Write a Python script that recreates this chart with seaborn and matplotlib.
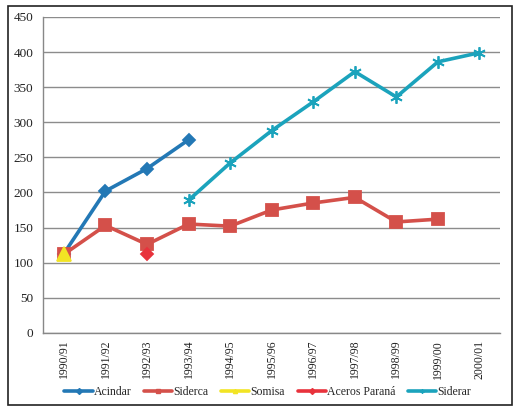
import numpy as np
import pandas as pd
import matplotlib
matplotlib.use("Agg")
import matplotlib.pyplot as plt
import seaborn as sns
from matplotlib.patches import Rectangle
from matplotlib.lines import Line2D

years = ["1990/91", "1991/92", "1992/93", "1993/94", "1994/95", "1995/96",
         "1996/97", "1997/98", "1998/99", "1999/00", "2000/01"]
acindar = [113, 202, 234, 275, None, None, None, None, None, None, None]
siderca = [112, 153, 126, 155, 152, 175, 185, 193, 158, 162, None]
somisa = [113, None, None, None, None, None, None, None, None, None, None]
aceros_parana = [None, None, 113, None, None, None, None, None, None, None, None]
siderar = [None, None, None, 189, 242, 288, 329, 372, 336, 386, 399]

series = {"Acindar": acindar, "Siderca": siderca, "Somisa": somisa,
          "Aceros Paraná": aceros_parana, "Siderar": siderar}
colors = {"Acindar": "#2378B5", "Siderca": "#D4504A", "Somisa": "#F2E424",
          "Aceros Paraná": "#E8323C", "Siderar": "#1BA3BC"}
markers = {"Acindar": "D", "Siderca": "s", "Somisa": "^",
           "Aceros Paraná": "D", "Siderar": (6, 2, 0)}
msizes = {"Acindar": 6.5, "Siderca": 9, "Somisa": 9.5, "Aceros Paraná": 6.5, "Siderar": 9}

rows = []
for name, vals in series.items():
    for i, v in enumerate(vals):
        if v is not None:
            rows.append({"pos": i, "value": v, "series": name})
df = pd.DataFrame(rows)

sns.set_style("white")
plt.rcParams["font.family"] = ["Liberation Serif", "DejaVu Serif"]

fig = plt.figure(figsize=(5.2, 4.12), dpi=100)
ax = fig.add_axes([0.083, 0.192, 0.879, 0.767])

for name in series:
    sub = df[df["series"] == name]
    sns.lineplot(data=sub, x="pos", y="value", ax=ax, color=colors[name],
                 marker=markers[name], markersize=msizes[name],
                 markeredgecolor=colors[name], markeredgewidth=1.3,
                 linewidth=2.6, sort=False, estimator=None, legend=False)

ax.set_xlim(-0.5, len(years) - 0.5)
ax.set_ylim(0, 450)
ax.set_yticks(np.arange(0, 451, 50))
ax.set_xticks(range(len(years)))
ax.set_xticklabels(years, rotation=90)
ax.set_xticks(np.arange(-0.5, len(years), 1), minor=True)
ax.tick_params(axis="x", which="major", length=0, labelsize=8.5, pad=5, colors="#222222")
ax.tick_params(axis="x", which="minor", length=4, color="#888888", width=1, direction="out")
ax.tick_params(axis="y", length=4, color="#888888", width=1, direction="out", labelsize=9.5,
               pad=3)
ax.tick_params(axis="y", labelcolor="#222222")
ax.yaxis.grid(True, color="#8c8c8c", linewidth=1.0)
ax.set_axisbelow(True)
ax.set_xlabel("")
ax.set_ylabel("")
for s in ["top", "right"]:
    ax.spines[s].set_visible(False)
for s in ["left", "bottom"]:
    ax.spines[s].set_color("#888888")
    ax.spines[s].set_linewidth(1.0)

handles = [Line2D([], [], color=colors[n], marker=markers[n], markersize=3,
                  markeredgecolor=colors[n], linewidth=2.6) for n in series]
leg = ax.legend(handles, list(series.keys()), loc="center", bbox_to_anchor=(0.515, 0.0485),
                bbox_transform=fig.transFigure, ncol=5, frameon=False,
                fontsize=8.5, handlelength=2.4, handletextpad=0.1, columnspacing=1.05)

fig.patches.append(Rectangle((8 / 520, 1 - 405 / 412), 504 / 520, 399 / 412,
                             transform=fig.transFigure, fill=False,
                             edgecolor="#222222", linewidth=1.2))

fig.savefig("out.png", dpi=100)
